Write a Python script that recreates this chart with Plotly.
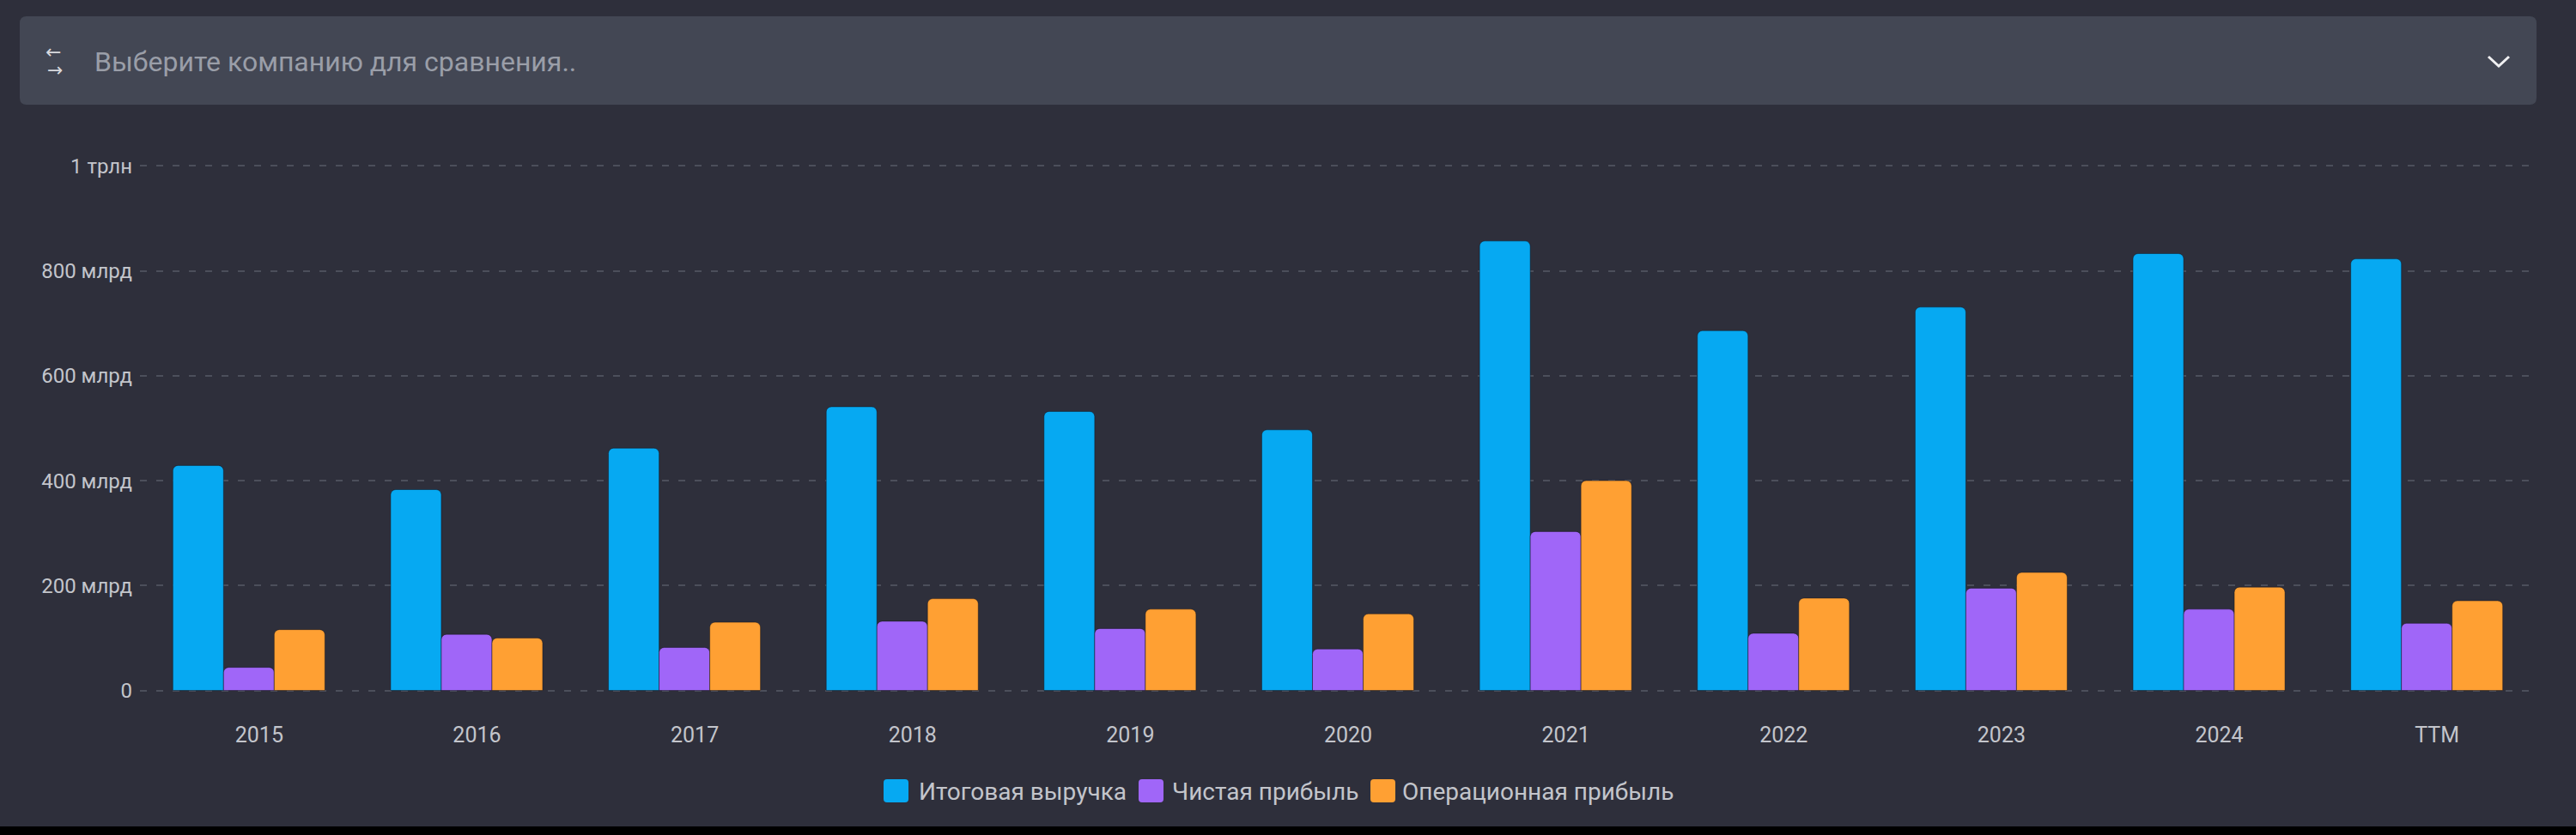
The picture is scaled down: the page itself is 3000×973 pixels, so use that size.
import plotly.graph_objects as go

# ---- data (billions) ----
categories = ["2015", "2016", "2017", "2018", "2019", "2020", "2021", "2022", "2023", "2024", "TTM"]
revenue = [429, 383, 462, 541, 532, 497, 857, 686, 731, 833, 823]
net_income = [44, 107, 82, 132, 118, 79, 303, 109, 195, 155, 128]
operating_income = [116, 100, 130, 175, 155, 146, 400, 176, 225, 197, 171]
series_names = ["Итоговая выручка", "Чистая прибыль", "Операционная прибыль"]
y_tickvals = [0, 200, 400, 600, 800, 1000]
y_ticktext = ["0", "200 млрд", "400 млрд", "600 млрд", "800 млрд", "1 трлн"]

# ---- style ----
BG = "#2e2f3b"
BOX = "#434754"
COLORS = ["#06a9f2", "#a066f8", "#ffa033"]
TXT = "#c3c5cb"
FONT = "Roboto"

W_PX, H_PX = 3000, 973
L, R, T, B = 163, 2953, 191, 807   # plot area (range padded slightly so edge gridlines show)
Y_RANGE = [-4, 1004]


def px(x):
    return (x - L) / (R - L)


def py(y):
    return (B - y) / (B - T)


fig = go.Figure()
for name, vals, col in zip(series_names, [revenue, net_income, operating_income], COLORS):
    fig.add_trace(go.Bar(
        x=categories, y=vals, name=name, showlegend=False,
        marker=dict(color=col, line=dict(color="rgba(15,15,25,0.45)", width=1)),
        hoverinfo="x+y+name",
    ))

shapes = []
annotations = []

# search / compare box
x0, x1, y0, y1, r = 23, 2954, 19, 122, 8
path = (f"M{px(x0 + r)},{py(y0)} L{px(x1 - r)},{py(y0)} Q{px(x1)},{py(y0)} {px(x1)},{py(y0 + r)} "
        f"L{px(x1)},{py(y1 - r)} Q{px(x1)},{py(y1)} {px(x1 - r)},{py(y1)} "
        f"L{px(x0 + r)},{py(y1)} Q{px(x0)},{py(y1)} {px(x0)},{py(y1 - r)} "
        f"L{px(x0)},{py(y0 + r)} Q{px(x0)},{py(y0)} {px(x0 + r)},{py(y0)} Z")
shapes.append(dict(type="path", xref="paper", yref="paper", path=path,
                   fillcolor=BOX, line=dict(width=0), layer="below"))
annotations.append(dict(xref="paper", yref="paper", x=px(108), y=py(72), xanchor="left", yanchor="middle",
                        text="Выберите компанию для сравнения..", showarrow=False,
                        font=dict(family=FONT, size=32, color="#9a9ea8")))
annotations.append(dict(xref="paper", yref="paper", x=px(62), y=py(60), xanchor="center", yanchor="middle",
                        text="←", showarrow=False,
                        font=dict(family="DejaVu Sans", size=22, color="#d8d9dd")))
annotations.append(dict(xref="paper", yref="paper", x=px(64), y=py(82), xanchor="center", yanchor="middle",
                        text="→", showarrow=False,
                        font=dict(family="DejaVu Sans", size=22, color="#d8d9dd")))
# chevron
shapes.append(dict(type="path", xref="paper", yref="paper",
                   path=f"M{px(2898)},{py(66)} L{px(2910)},{py(77)} L{px(2922)},{py(66)}",
                   line=dict(color="#f0f0f2", width=3)))

# bottom black band
shapes.append(dict(type="rect", xref="paper", yref="paper", x0=px(-5), x1=px(3005),
                   y0=py(963), y1=py(980), fillcolor="#000000", line=dict(width=0)))

# custom legend
sq_x = [1029, 1326, 1596]
tx_x = [1068, 1363, 1631]
for name, col, sx, tx in zip(series_names, COLORS, sq_x, tx_x):
    a, b, c, d, rr = sx, sx + 29, 908, 935, 4
    p = (f"M{px(a + rr)},{py(c)} L{px(b - rr)},{py(c)} Q{px(b)},{py(c)} {px(b)},{py(c + rr)} "
         f"L{px(b)},{py(d - rr)} Q{px(b)},{py(d)} {px(b - rr)},{py(d)} "
         f"L{px(a + rr)},{py(d)} Q{px(a)},{py(d)} {px(a)},{py(d - rr)} "
         f"L{px(a)},{py(c + rr)} Q{px(a)},{py(c)} {px(a + rr)},{py(c)} Z")
    shapes.append(dict(type="path", xref="paper", yref="paper", path=p,
                       fillcolor=col, line=dict(width=0)))
    annotations.append(dict(xref="paper", yref="paper", x=px(tx), y=py(922), xanchor="left", yanchor="middle",
                            text=name, showarrow=False,
                            font=dict(family=FONT, size=28, color=TXT)))

fig.update_layout(
    width=W_PX, height=H_PX, autosize=False,
    paper_bgcolor=BG, plot_bgcolor=BG,
    margin=dict(l=L, r=W_PX - R, t=T, b=H_PX - B, pad=0),
    barmode="group", bargap=0.302, bargroupgap=0, barcornerradius=6,
    font=dict(family=FONT, size=24, color=TXT),
    shapes=shapes, annotations=annotations,
    showlegend=False,
)
fig.update_xaxes(
    type="category", showgrid=False, showline=False, zeroline=False, ticks="",
    tickfont=dict(family=FONT, size=25, color=TXT),
    ticklabelstandoff=32, ticklabelshift=12,
)
fig.update_yaxes(
    range=Y_RANGE, tickvals=y_tickvals, ticktext=y_ticktext,
    showgrid=True, gridcolor="#4c4f5b", gridwidth=2, griddash="8px,11px",
    zeroline=False, showline=False, ticks="",
    tickfont=dict(family=FONT, size=24, color=TXT),
    ticklabelstandoff=8,
)

fig.write_html("out.html")
